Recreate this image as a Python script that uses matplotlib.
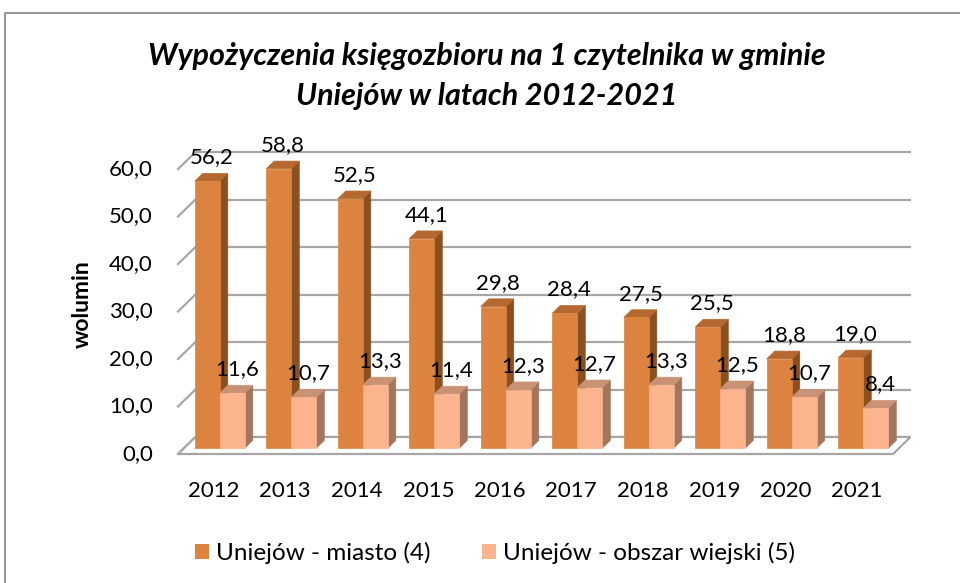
import numpy as np
import matplotlib
matplotlib.use("Agg")
import matplotlib.pyplot as plt
from matplotlib.patches import Polygon, Patch
from matplotlib.lines import Line2D

plt.rcParams['font.family'] = ['Lato', 'DejaVu Sans']

# --- data ---
years = ['2012', '2013', '2014', '2015', '2016', '2017', '2018', '2019', '2020', '2021']
miasto = [56.2, 58.8, 52.5, 44.1, 29.8, 28.4, 27.5, 25.5, 18.8, 19.0]
wiejski = [11.6, 10.7, 13.3, 11.4, 12.3, 12.7, 13.3, 12.5, 10.7, 8.4]
series_names = ['Uniejów - miasto (4)', 'Uniejów - obszar wiejski (5)']
y_ticks = [0, 10, 20, 30, 40, 50, 60]

# face colours: front, top, side
c_miasto = ('#DC843F', '#B56930', '#8C501F')
c_wiejski = ('#FBB48E', '#C99274', '#A3755C')
grid_col = '#A6A6A6'

# --- geometry of the fake 3D view ---
W, H = 960, 583
px0, px_cat = 178.0, 71.5      # front floor left edge, pixels per category
py0, py_val = 454.0, 4.75      # front floor y, pixels per unit
ddx = 17.5 / px_cat            # full depth offset in data units
ddy = 17.0 / py_val
d_front, d_back = 0.35, 0.80   # bar depth range (fraction of floor depth)
bar_w = 0.35

fig = plt.figure(figsize=(W / 100, H / 100), dpi=100)
ax = fig.add_axes([0, 0, 1, 1])
ax.set_xlim(-px0 / px_cat - 0.5, (W - px0) / px_cat - 0.5)
ax.set_ylim(-(H - py0) / py_val, py0 / py_val)
ax.axis('off')

n = len(years)
xl, xr = -0.5, n - 0.5

# back wall gridlines + left wall diagonals
for v in y_ticks:
    ax.plot([xl + ddx, xr + ddx], [v + ddy, v + ddy], color=grid_col, lw=1.6,
            solid_capstyle='butt', zorder=1)
    ax.plot([xl, xl + ddx], [v, v + ddy], color=grid_col, lw=1.6, zorder=1)
    ax.text(xl - 0.35, v, f'{v:.1f}'.replace('.', ','), ha='right', va='center',
            fontsize=16)

# floor
floor = Polygon([(xl, 0), (xr, 0), (xr + ddx, ddy), (xl + ddx, ddy)],
                closed=True, facecolor='white', edgecolor=grid_col, lw=1.6, zorder=2)
ax.add_patch(floor)


def bar3d(x0, v, cols):
    a, b = d_front, d_back
    x1 = x0 + bar_w
    front = [(x0 + a * ddx, a * ddy), (x1 + a * ddx, a * ddy),
             (x1 + a * ddx, v + a * ddy), (x0 + a * ddx, v + a * ddy)]
    top = [(x0 + a * ddx, v + a * ddy), (x1 + a * ddx, v + a * ddy),
           (x1 + b * ddx, v + b * ddy), (x0 + b * ddx, v + b * ddy)]
    side = [(x1 + a * ddx, a * ddy), (x1 + b * ddx, b * ddy),
            (x1 + b * ddx, v + b * ddy), (x1 + a * ddx, v + a * ddy)]
    for pts, c in zip((side, top, front), (cols[2], cols[1], cols[0])):
        ax.add_patch(Polygon(pts, closed=True, facecolor=c, edgecolor=c, lw=0.5, zorder=3))
    # data label
    ax.text(x0 + bar_w / 2 + 0.6 * ddx, v + a * ddy + 5.0,
            f'{v:.1f}'.replace('.', ','), ha='center', va='center',
            fontsize=16, zorder=5)


for i in range(n):
    bar3d(i - bar_w, miasto[i], c_miasto)
    bar3d(i, wiejski[i], c_wiejski)
    ax.text(i, -7.8, years[i], ha='center', va='center', fontsize=16)

ax.text(-1.84, 31.5, 'wolumin', rotation=90, ha='center', va='center',
        fontsize=16.5, fontweight='bold')

fig.text(487 / W, 1 - 56 / H, 'Wypożyczenia księgozbioru na 1 czytelnika w gminie',
         ha='center', va='center', fontsize=22, fontweight='bold', style='italic')
fig.text(487 / W, 1 - 96 / H, 'Uniejów w latach 2012-2021',
         ha='center', va='center', fontsize=22, fontweight='bold', style='italic')

handles = [Patch(facecolor=c_miasto[0]), Patch(facecolor=c_wiejski[0])]
fig.legend(handles, series_names, loc='center', bbox_to_anchor=(495 / W, 1 - 553 / H),
           ncol=2, frameon=False, fontsize=17.5, handlelength=0.58, handleheight=0.58,
           handletextpad=0.3, columnspacing=2.1)

# chart border (only top and left edges fall inside the picture)
fig.add_artist(Line2D([5 / W, 5 / W, 1.0], [0.0, 1 - 13 / H, 1 - 13 / H],
                      transform=fig.transFigure, color='#8C8C8C', lw=1.3))

fig.savefig('out.png', dpi=100)
